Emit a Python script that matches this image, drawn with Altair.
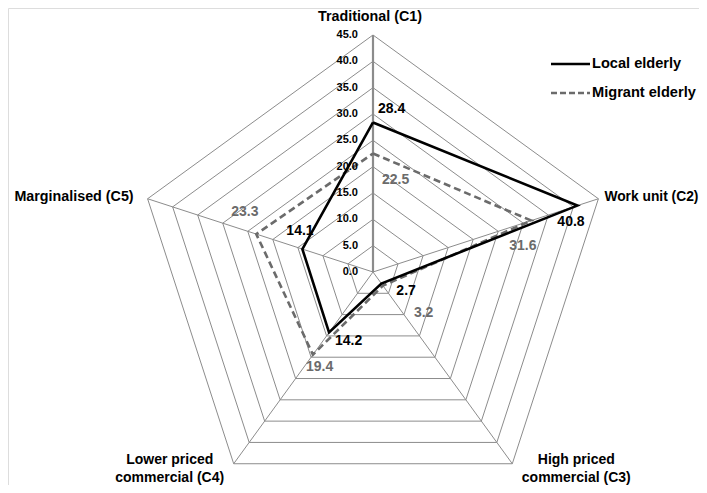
import altair as alt
import pandas as pd

# ---------------- data ----------------
categories = [
    "Traditional (C1)",
    "Work unit (C2)",
    "High priced\ncommercial (C3)",
    "Lower priced\ncommercial (C4)",
    "Marginalised (C5)",
]
local_elderly = [28.4, 40.8, 2.7, 14.2, 14.1]
migrant_elderly = [22.5, 31.6, 3.2, 19.4, 23.3]
grid_levels = [5, 10, 15, 20, 25, 30, 35, 40, 45]
tick_levels = [0, 5, 10, 15, 20, 25, 30, 35, 40, 45]
series_names = ["Local elderly", "Migrant elderly"]

# ---------------- layout / style ----------------
FONT = "Liberation Sans"
R_MAX = 45
PX = 237 / 45.0          # pixels per unit
W, H = 691, 477
CX, CY = 365, 264        # centre in plot pixels
GRID = "#8c8c8c"
LOCAL_COL = "#000000"
MIGR_COL = "#6b6b6b"

x_scale = alt.Scale(domain=[-CX / PX, (W - CX) / PX], nice=False, zero=False)
y_scale = alt.Scale(domain=[-(H - CY) / PX, CY / PX], nice=False, zero=False)
X = lambda f: alt.X(f, type="quantitative", scale=x_scale, axis=None)
Y = lambda f: alt.Y(f, type="quantitative", scale=y_scale, axis=None)

ANG = "PI/2 - datum.k*2*PI/5"


def polar(ch, rfield):
    return ch.transform_calculate(a=ANG).transform_calculate(
        x=f"datum.{rfield}*cos(datum.a)", y=f"datum.{rfield}*sin(datum.a)"
    )


# grid pentagons
grid_df = pd.DataFrame([{"level": l, "k": k} for l in grid_levels for k in range(6)])
grid = polar(alt.Chart(grid_df), "level").mark_line(color=GRID, strokeWidth=1).encode(
    x=X("x"), y=Y("y"), detail="level:N", order="k:Q"
)

# spokes
spoke_df = pd.DataFrame({"k": list(range(len(categories))), "r": [R_MAX] * len(categories)})
spokes = polar(alt.Chart(spoke_df), "r").transform_calculate(x0="0", y0="0").mark_rule(color=GRID).encode(
    x=X("x0"), y=Y("y0"), x2="x:Q", y2="y:Q",
    strokeWidth=alt.condition("datum.k == 0", alt.value(2.2), alt.value(1)),
)

# tick labels on vertical spoke
tick_df = pd.DataFrame({"v": tick_levels, "k": [0] * len(tick_levels)})
ticks = polar(alt.Chart(tick_df), "v").mark_text(
    align="right", baseline="middle", dx=-15, font=FONT, fontSize=11, fontWeight="bold", color="#000"
).encode(x=X("x"), y=Y("y"), text=alt.Text("v:Q", format=".1f"))


def series_line(vals, color, dash=None):
    df = pd.DataFrame({"k": list(range(len(vals) + 1)), "v": vals + [vals[0]]})
    kw = dict(color=color, strokeWidth=2.6, strokeJoin="miter")
    if dash:
        kw["strokeDash"] = dash
    return polar(alt.Chart(df), "v").mark_line(**kw).encode(x=X("x"), y=Y("y"), order="k:Q")


local_line = series_line(local_elderly, LOCAL_COL)
migr_line = series_line(migrant_elderly, MIGR_COL, [7, 4])

# value labels (offsets in pixels from the data point)
local_offsets = [(5, -13), (-20, 16), (15, 7), (6, 8), (-16, -18)]
migr_offsets = [(9, 26), (-22, 25), (31, 27), (-7, 12), (-25, -22)]


def value_labels(vals, offsets, color):
    layers = []
    for i, (v, (dx, dy)) in enumerate(zip(vals, offsets)):
        df = pd.DataFrame({"k": [i], "v": [v]})
        layers.append(
            polar(alt.Chart(df), "v").mark_text(
                align="left", baseline="middle", dx=dx, dy=dy, font=FONT,
                fontSize=14, fontWeight="bold", color=color,
            ).encode(x=X("x"), y=Y("y"), text=alt.Text("v:Q", format=".1f"))
        )
    return layers


# category labels: (align, dx, dy, fontSize)
cat_style = [("center", -3, -18, 14.3), ("left", 6, -2, 13.8), ("center", 64, -3.5, 14.0),
             ("center", -64, -3.5, 14.0), ("right", -14, -2, 14.3)]
cat_layers = []
for i, (name, (al, dx, dy, fs)) in enumerate(zip(categories, cat_style)):
    df = pd.DataFrame({"k": [i], "r": [R_MAX], "name": [name]})
    cat_layers.append(
        polar(alt.Chart(df), "r").mark_text(
            align=al, baseline="middle", dx=dx, dy=dy, font=FONT, fontSize=fs,
            fontWeight="bold", color="#000", lineBreak="\n", lineHeight=17.5,
        ).encode(x=X("x"), y=Y("y"), text="name:N")
    )

# legend
leg_df = pd.DataFrame({"name": series_names})
legend_layers = []
for i, (name, col, dash) in enumerate(zip(series_names, [LOCAL_COL, MIGR_COL], [None, [6, 3]])):
    ypix = 56 + i * 29
    kw = dict(color=col, strokeWidth=2.6)
    if dash:
        kw["strokeDash"] = dash
    legend_layers.append(
        alt.Chart(leg_df.iloc[[i]]).mark_rule(**kw).encode(
            x=alt.value(543), x2=alt.value(582), y=alt.value(ypix)
        )
    )
    legend_layers.append(
        alt.Chart(leg_df.iloc[[i]]).mark_text(
            align="left", baseline="middle", font=FONT, fontSize=14.6, fontWeight="bold", color="#000"
        ).encode(x=alt.value(584), y=alt.value(ypix), text="name:N")
    )

chart = alt.layer(
    grid, spokes, migr_line, local_line, ticks,
    *value_labels(local_elderly, local_offsets, "#000000"),
    *value_labels(migrant_elderly, migr_offsets, MIGR_COL),
    *cat_layers, *legend_layers,
).properties(
    width=W, height=H, padding=0, autosize=alt.AutoSizeParams(type="none")
).configure_view(stroke=None).configure(background="white")

chart.save("out.html", embed_options={"renderer": "svg", "actions": False})
